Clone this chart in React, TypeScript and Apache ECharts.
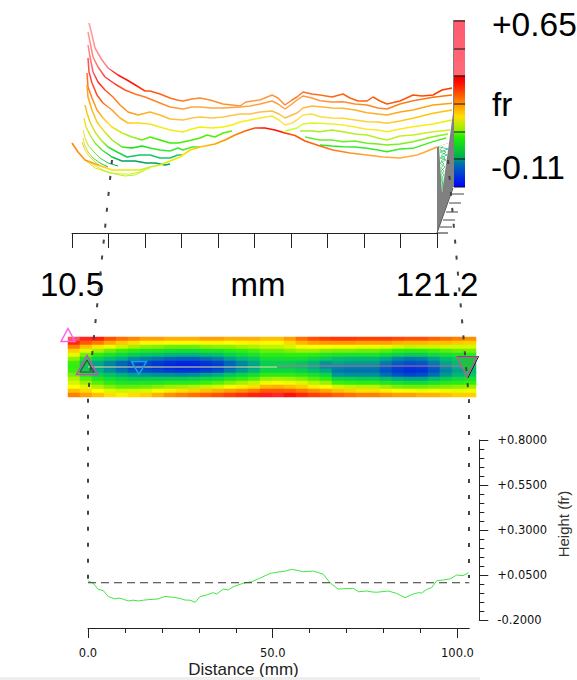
import React, { useEffect, useRef } from "react";
import * as echarts from "echarts";

const FONT = "Liberation Sans";

// ---- 3D waterfall traces: [projected x, projected y]
const ridge1 = [[89,23],[92,35],[95,48],[102,60],[108,68],[118,75],[127,80],[137,86],[145,91],[150,91],[160,94],[170,98],[177,100],[183,101],[192,99],[200,98],[210,100],[223,104],[232,105],[240,106],[246,102],[260,100],[272,95],[278,98],[285,105],[292,100],[297,97],[303,92],[312,94],[320,95],[332,97],[343,94],[350,98],[358,101],[367,101],[373,97],[380,101],[387,104],[400,101],[413,95],[422,96],[433,95],[442,90],[452,88]];
const ridge2 = [[88,32],[90,42],[93,57],[98,67],[105,77],[115,84],[125,90],[135,94],[145,97],[150,99],[160,103],[170,107],[183,109],[192,107],[200,107],[212,108],[223,108],[240,107],[250,106],[260,104],[272,101],[278,104],[285,109],[292,104],[297,100],[303,96],[312,98],[320,100.7],[332,102],[343,101.7],[355,104],[367,105],[378,108],[387,109],[400,104],[413,100.7],[433,97.3],[452,95]];
const ridge3 = [[88,45],[90,57],[93,72],[98,82],[105,90],[113,97],[120,105],[128,112],[138,115],[150,112],[160,115],[170,119],[183,120],[192,118],[200,117],[212,118],[223,117],[240,114],[250,114],[260,112],[272,111],[279,114],[285,118],[292,115],[297,113],[303,108],[312,106],[320,106.7],[332,108],[343,108.3],[355,110],[367,112.7],[378,114],[387,115],[400,112],[413,110],[433,105],[452,103.3]];
const ridge4 = [[88,58],[89,72],[92,83],[97,95],[103,103],[112,110],[120,118],[128,123],[138,123],[150,124],[160,127],[170,130],[183,132],[192,129],[200,127],[212,128],[223,127],[232,125],[240,122],[250,120],[260,118],[272,116],[279,120],[285,125],[292,123],[297,120],[303,115],[312,114],[320,116.7],[332,118],[343,118.3],[355,120],[367,121.7],[378,122],[387,123.3],[400,121],[413,118.3],[433,113.3],[452,110]];
const ridge5 = [[87,73],[88,87],[92,98],[97,110],[103,118],[112,127],[122,133],[132,137],[142,140],[150,137],[160,140],[170,143],[178,143],[183,142],[192,140],[200,138],[207,135],[215,137],[223,133],[232,131],[240,null],[280,null],[285,131],[297,128],[303,124],[312,123],[320,123.3],[332,124],[343,125],[355,127],[367,129.3],[378,130],[387,131.7],[400,129],[413,126.7],[433,124],[452,120]];
const ridge6 = [[87,85],[88,97],[92,110],[97,122],[103,130],[112,140],[122,147],[132,148],[142,146],[150,148],[160,150],[170,151],[178,148],[183,150],[192,147],[200,147],[205,null],[295,null],[300,131],[312,131],[320,131.7],[332,130],[343,131.7],[355,134],[367,135],[378,138],[387,140],[400,136],[413,135],[433,131.7],[450,130]];
const ridge7 = [[85,105],[87,113],[90,122],[95,132],[101,140],[108,147],[117,152],[127,157],[140,155],[150,155],[160,158],[170,158],[178,155],[183,155],[186,null],[302,null],[305,137],[320,140],[332,140],[343,141.7],[355,141],[367,143.3],[378,144],[387,145],[400,144],[413,141.7],[433,136.7],[448,134]];
const ridge8 = [[84,118],[86,127],[90,135],[95,143],[102,150],[112,157],[122,161],[135,161],[146,163],[155,163],[165,165],[170,164],[174,null],[315,null],[320,145],[332,146],[343,146.7],[355,147],[367,148.3],[378,150],[387,151.7],[400,149],[413,148.3],[433,141.7],[446,138]];
const ridge9 = [[83,130],[85,138],[88,145],[94,152],[100,158],[108,163],[118,166]];
const ridge10 = [[83,138],[85,146],[88,152],[93,158],[100,163],[108,167]];
const ridge11 = [[82,142],[85,150],[89,156],[94,161],[100,166]];
const frontLoop1 = [[85,160],[95,168],[110,173],[120,174],[130,174],[140,172],[150,168]];
const frontLoop2 = [[90,163],[105,171],[115,174],[125,176],[135,175],[145,170]];
const frontTrace = [[72,143],[78,152],[85,160],[98,165],[112,170],[128,170],[140,170],[150,167],[160,165],[170,161],[180,157],[190,150],[200,147],[215,144],[225,140],[235,135],[245,131],[255,128],[265,128],[275,130],[285,133],[295,135.5],[305,141],[320,146],[333,150],[350,153],[367,155],[383,157],[400,158],[417,155],[425,152],[437,147]];
const wallHatch = [[439,147],[448,149],[440,152],[447,155],[440,158],[446,160],[440,163],[445,167],[441,171],[444,175],[441,179],[443,184],[442,190]];
const wallHatch2 = [[443,146],[440,150],[446,152],[441,156],[445,158],[441,161],[444,164],[441,168],[444,171],[441,175],[443,179],[442,186]];

const ridgeList = [ridge1,ridge2,ridge3,ridge4,ridge5,ridge6,ridge7,ridge8,ridge9,ridge10,ridge11,frontLoop1,frontLoop2,frontTrace,wallHatch,wallHatch2];
const ridgeColors: [number,string][][] = [
  [[0,"#ff9aa0"],[.05,"#ff8088"],[.07,"#ff2020"],[.12,"#ff1000"],[.16,"#ff5010"],[.3,"#ff8a30"],[.5,"#ff9a40"],[.6,"#ff7020"],[.9,"#ff5000"],[1,"#ff3000"]],
  [[0,"#ff9a90"],[.06,"#ff3030"],[.12,"#ff7020"],[.3,"#ffa840"],[.6,"#ff9a40"],[1,"#ff7000"]],
  [[0,"#ff8a90"],[.03,"#ff2020"],[.07,"#ff7a20"],[.15,"#ffb020"],[.3,"#ffc850"],[.6,"#ffb840"],[1,"#ffa000"]],
  [[0,"#ff5050"],[.02,"#ff4020"],[.06,"#ff9020"],[.12,"#ffd020"],[.2,"#e8f020"],[.4,"#f8f000"],[.55,"#ffe050"],[1,"#ffc000"]],
  [[0,"#ff7020"],[.03,"#ffa020"],[.06,"#ffe020"],[.12,"#a0f020"],[.2,"#30f000"],[.4,"#60f000"],[.55,"#c8ff30"],[.75,"#ffe830"],[1,"#f0f000"]],
  [[0,"#ffa020"],[.04,"#f0e020"],[.08,"#80f020"],[.12,"#10e000"],[.2,"#30e830"],[.55,"#a0f020"],[1,"#d0f020"]],
  [[0,"#ffc020"],[.04,"#c0f020"],[.07,"#30e820"],[.12,"#10c860"],[.25,"#10c870"],[.55,"#50f030"],[1,"#90f010"]],
  [[0,"#ffe020"],[.03,"#80f020"],[.07,"#10d040"],[.12,"#00a060"],[.25,"#00a060"],[.55,"#20e820"],[1,"#40f020"]],
  [[0,"#f0e020"],[.4,"#50e030"],[1,"#00a060"]],
  [[0,"#f0e020"],[.5,"#50e030"],[1,"#10a050"]],
  [[0,"#ffc020"],[.5,"#e0f020"],[1,"#60e030"]],
  [[0,"#ffd020"],[.3,"#c8f020"],[1,"#c8f020"]],
  [[0,"#ffe020"],[.3,"#b8f020"],[1,"#c0f020"]],
  [[0,"#ff8a10"],[.06,"#ffa010"],[.1,"#ffe000"],[.17,"#d8f000"],[.2,"#c8f020"],[.26,"#d8f000"],[.3,"#ffe800"],[.33,"#ffd000"],[.4,"#ffa000"],[.45,"#ff8000"],[.5,"#ff5010"],[.52,"#ff1800"],[.57,"#ff1000"],[.6,"#ff5000"],[.7,"#ff7010"],[.8,"#ffa030"],[.95,"#ffb040"],[1,"#ffa030"]],
  [[0,"#30e030"],[.6,"#10c060"],[1,"#10a090"]],
  [[0,"#30e030"],[.6,"#10c060"],[1,"#10a090"]],
];
const ridgeWidths = [1.5,1.5,1.5,1.5,1.5,1.5,1.5,1.4,1,1,1,1,1,1.7,0.7,0.7];

// ---- Surface map: one list per column, top row first
const surfaceColumns = [
  [96,87,76,66,57,48,41,40,41,46,51,55,60,68,76],
  [92,81,68,56,46,35,27,26,28,35,43,49,56,65,72],
  [88,77,63,50,39,28,19,18,20,28,36,43,51,60,68],
  [82,71,58,45,34,24,15,14,16,24,32,39,47,56,64],
  [78,67,54,41,30,20,11,10,12,20,29,36,44,54,62],
  [75,64,50,38,27,16,7,6,8,18,27,35,44,55,64],
  [72,61,48,36,25,14,6,5,7,17,27,36,45,56,66],
  [72,61,47,35,24,13,4,3,6,16,27,36,47,59,70],
  [70,59,45,33,22,11,2,1,4,16,27,38,49,62,74],
  [70,59,45,32,21,10,1,0,3,15,27,38,50,64,76],
  [70,59,45,32,21,10,1,0,3,16,28,39,51,66,78],
  [72,61,47,34,23,12,3,2,5,18,30,41,53,68,80],
  [72,61,48,35,24,14,5,4,7,20,32,43,55,70,82],
  [70,60,48,38,28,18,11,10,13,25,37,47,59,72,84],
  [70,61,50,40,31,22,15,14,17,28,40,50,62,74,86],
  [70,62,51,42,34,25,19,18,21,32,43,53,64,77,88],
  [68,61,53,45,39,32,27,26,29,39,49,58,69,81,91],
  [68,61,53,45,39,32,27,26,29,39,50,59,70,81,92],
  [72,65,55,47,40,32,27,26,29,39,49,58,68,80,90],
  [78,69,59,49,40,32,25,24,27,37,47,56,66,77,87],
  [82,72,60,49,39,29,21,20,23,33,43,52,62,74,84],
  [84,73,60,47,36,26,17,16,19,29,40,49,60,71,82],
  [85,73,59,46,35,23,19,15,13,17,29,41,55,68,80],
  [85,73,59,46,34,22,18,14,12,16,28,40,53,66,78],
  [84,72,58,45,34,22,18,14,12,16,27,39,52,64,76],
  [84,72,58,45,34,22,18,14,12,16,27,39,52,64,76],
  [84,72,57,43,31,19,14,10,8,12,24,36,49,62,74],
  [83,70,55,40,28,15,10,6,4,8,20,33,46,60,72],
  [82,69,53,39,26,13,8,4,2,6,19,31,45,59,72],
  [82,69,54,39,27,14,9,5,3,7,19,31,45,58,70],
  [80,68,54,41,30,18,14,10,8,12,23,34,46,59,70],
  [78,68,55,43,33,23,19,16,14,17,27,37,47,58,68],
  [76,67,55,45,35,26,23,20,18,21,30,38,48,57,66],
  [74,66,55,46,38,29,26,24,22,25,33,40,49,58,66],
];
const surfacePalette = ["#0020e0","#0060c0","#00b080","#10d840","#30ee10","#a8f000","#ffff00","#ffb000","#ff6000","#ff1010","#ff8090"];

// ---- Cross-section profile: distance (mm), height (fr)
const profileDistance = [0,1.44,2.8,4.15,5.5,7.3,8.4,9.56,10.9,12.2,13.6,15,16.3,19,20.8,23.1,24.9,26.25,27.6,29,30.3,32.1,33.9,34.8,36.6,38,39.3,42,44.3,46.5,49.3,52,53.5,55.1,56.6,58.3,61,63.7,65.5,67.7,71.8,73.2,75.4,76.8,78.1,81.3,83.5,85.8,88,89.5,90.3,91.7,93,94.4,96,98,99.8,101.5,103];
const profileHeight = [0.018,0.004,-0.03,-0.037,-0.07,-0.083,-0.078,-0.085,-0.094,-0.09,-0.094,-0.09,-0.087,-0.083,-0.069,-0.074,-0.08,-0.089,-0.09,-0.102,-0.07,-0.061,-0.048,-0.056,-0.028,-0.033,-0.015,0.004,0.013,0.032,0.059,0.068,0.072,0.081,0.076,0.068,0.072,0.054,0.007,-0.028,-0.024,-0.043,-0.039,-0.044,-0.046,-0.039,-0.052,-0.076,-0.056,-0.048,-0.05,-0.03,-0.02,0.018,0.022,0.028,0.05,0.046,0.063];
const meanHeight = 0.007;
const distanceEnd = 103.2;

const distMinorTicks = [0,10,20,30,40,50,60,70,80,90,100];
const distMajorTicks = [0,50,100];
const heightLabels = [-0.2,0.05,0.3,0.55,0.8];
const heightTicks = [-0.2,-0.15,-0.1,-0.05,0,0.05,0.1,0.15,0.2,0.25,0.3,0.35,0.4,0.45,0.5,0.55,0.6,0.65,0.7,0.75,0.8];
const waterfallTicks = [10.5,21.57,32.64,43.71,54.78,65.85,76.92,87.99,99.06,110.13,121.2];
const waterfallLabels = [10.5,121.2];

const colorBarStops: [number,string][] = [[0,"#ff5a6e"],[.33,"#ff6a78"],[.335,"#e80000"],[.38,"#ff1000"],[.5,"#ff9000"],[.58,"#ffe000"],[.66,"#90f000"],[.7,"#20f000"],[.82,"#00b050"],[.86,"#0070b0"],[1,"#0000ff"]];

const lineSeries = (data: any, color: any, width: number, extra: any = {}) => ({
  type: "line", xAxisIndex: 0, yAxisIndex: 0, data, showSymbol: false, symbol: "none",
  silent: true, clip: false, lineStyle: { color, width }, ...extra,
});

const marker = (point: number[], up: boolean, size: number[], stroke: string, fill = "transparent", bw = 1.5) => ({
  type: "scatter", xAxisIndex: 0, yAxisIndex: 0, data: [point], symbol: "triangle",
  symbolSize: size, symbolRotate: up ? 0 : 180, clip: false, silent: true, z: 8,
  itemStyle: { color: fill, borderColor: stroke, borderWidth: bw, opacity: 1 },
});

export default function App() {
  const ref = useRef<HTMLDivElement>(null);
  useEffect(() => {
    const chart = echarts.init(ref.current!, undefined, { renderer: "svg" });
    const axisCol = "#222";
    const heatData: number[][] = [];
    surfaceColumns.forEach((col, c) => col.forEach((v, r) => heatData.push([c, r, v])));

    const graphicEls: any[] = [
      { type: "polygon", z: 0, shape: { points: [[453,113],[453,187],[437,233],[437,147],[439,146],[449,143]] }, style: { fill: "#808080" } },
      { type: "polygon", z: 0, shape: { points: [[439,146],[449,143],[442,193]] }, style: { fill: "#ffffff" } },
      { type: "line", shape: { x1: 437, y1: 233, x2: 448, y2: 233 }, style: { stroke: "#222", lineWidth: 1 } },
      { type: "line", shape: { x1: 453, y1: 188, x2: 437, y2: 233 }, style: { stroke: "#555", lineWidth: 1 } },
      { type: "line", shape: { x1: 452, y1: 194, x2: 464, y2: 194 }, style: { stroke: "#444", lineWidth: 1 } },
      { type: "line", shape: { x1: 449, y1: 203, x2: 461, y2: 203 }, style: { stroke: "#444", lineWidth: 1 } },
      { type: "line", shape: { x1: 446, y1: 212, x2: 458, y2: 212 }, style: { stroke: "#444", lineWidth: 1 } },
      { type: "line", shape: { x1: 443, y1: 220, x2: 455, y2: 220 }, style: { stroke: "#444", lineWidth: 1 } },
      { type: "line", shape: { x1: 440, y1: 227, x2: 452, y2: 227 }, style: { stroke: "#444", lineWidth: 1 } },
      { type: "rect", shape: { x: 453, y: 20, width: 1.5, height: 167 }, style: { fill: "#808080" } },
      { type: "rect", shape: { x: 454, y: 20, width: 11, height: 167 }, style: { fill: new echarts.graphic.LinearGradient(0, 0, 0, 1, colorBarStops.map(([offset, color]) => ({ offset, color }))) } },
      ...[21, 49, 76, 104, 132, 159, 187].map((y) => ({ type: "line", shape: { x1: 454, y1: y, x2: 465, y2: y }, style: { stroke: "#111", lineWidth: 1 } })),
      { type: "text", style: { text: "+0.65", x: 492, y: 24, fontSize: 33.5, fontFamily: FONT, fill: "#000", textAlign: "left", textVerticalAlign: "middle" } },
      { type: "text", style: { text: "fr", x: 492, y: 104, fontSize: 33.5, fontFamily: FONT, fill: "#000", textAlign: "left", textVerticalAlign: "middle" } },
      { type: "text", style: { text: "-0.11", x: 491, y: 167, fontSize: 33.5, fontFamily: FONT, fill: "#000", textAlign: "left", textVerticalAlign: "middle" } },
      { type: "text", style: { text: "Distance (mm)", x: 243.5, y: 669, fontSize: 17, fontFamily: FONT, fill: "#222", textAlign: "center", textVerticalAlign: "middle" } },
      { type: "text", x: 563, y: 524, rotation: Math.PI / 2, style: { text: "Height (fr)", x: 0, y: 0, fontSize: 15, fontFamily: FONT, fill: "#333", textAlign: "center", textVerticalAlign: "middle" } },
      { type: "polyline", z: 30, shape: { points: [[112,160],[88,395],[88,582]] }, style: { stroke: "#444", fill: "none", lineWidth: 2, lineDash: [4, 12] } },
      { type: "polyline", z: 30, shape: { points: [[448,160],[469,400],[469,578]] }, style: { stroke: "#444", fill: "none", lineWidth: 2, lineDash: [4, 12] } },
      { type: "rect", shape: { x: 0, y: 677, width: 480, height: 3 }, style: { fill: "#eeeeee" } },
    ];

    chart.setOption({
      animation: false,
      backgroundColor: "#ffffff",
      textStyle: { fontFamily: FONT },
      grid: [
        { left: 0, top: 0, width: 577, height: 680, containLabel: false },
        { left: 72, top: 180, width: 365, height: 53 },
        { left: 68, top: 337, width: 408, height: 60 },
        { left: 88, top: 440, width: 381.3, height: 180 },
      ],
      xAxis: [
        { gridIndex: 0, type: "value", min: 0, max: 577, show: false },
        {
          gridIndex: 1, type: "value", min: 10.5, max: 121.2, position: "bottom",
          name: "mm", nameLocation: "middle", nameGap: 35, nameMoveOverlap: false,
          nameTextStyle: { fontSize: 33, fontFamily: FONT, color: "#000", padding: [0, 0, 0, 7] },
          axisLine: { show: true, onZero: false, lineStyle: { color: axisCol, width: 1 } },
          axisTick: { show: true, length: 15, customValues: waterfallTicks, lineStyle: { color: axisCol, width: 1 } },
          axisLabel: { show: true, customValues: waterfallLabels, margin: 35, fontSize: 33, fontFamily: FONT, color: "#000", formatter: (v: number) => v.toFixed(1) },
          splitLine: { show: false },
        },
        { gridIndex: 2, type: "category", data: surfaceColumns.map((_, i) => String(i)), show: false },
        {
          gridIndex: 3, type: "value", min: 0, max: distanceEnd, position: "bottom", offset: 8,
          axisLine: { show: true, onZero: false, lineStyle: { color: axisCol, width: 1 } },
          axisTick: { show: true, length: 5, customValues: distMinorTicks, lineStyle: { color: axisCol } },
          axisLabel: { show: false }, splitLine: { show: false },
        },
        {
          gridIndex: 3, type: "value", min: 0, max: distanceEnd, position: "bottom", offset: 8,
          axisLine: { show: false, onZero: false },
          axisTick: { show: true, length: 10, customValues: distMajorTicks, lineStyle: { color: axisCol } },
          axisLabel: { show: true, customValues: distMajorTicks, margin: 19, fontSize: 11.5, fontFamily: "DejaVu Sans", color: "#111", formatter: (v: number) => v.toFixed(1) },
          splitLine: { show: false },
        },
      ],
      yAxis: [
        { gridIndex: 0, type: "value", min: 0, max: 680, inverse: true, show: false },
        { gridIndex: 1, type: "value", min: 0, max: 1, show: false },
        { gridIndex: 2, type: "category", inverse: true, data: surfaceColumns[0].map((_, i) => String(i)), show: false },
        {
          gridIndex: 3, type: "value", min: -0.2, max: 0.8, position: "right", offset: 10,
          axisLine: { show: true, onZero: false, lineStyle: { color: axisCol, width: 1 } },
          axisTick: { show: true, length: 5, customValues: heightTicks, lineStyle: { color: axisCol } },
          axisLabel: { show: true, customValues: heightLabels, margin: 18, fontSize: 11.5, fontFamily: "DejaVu Sans", color: "#111", formatter: (v: number) => (v >= 0 ? "+" : "") + v.toFixed(4) },
          splitLine: { show: false },
        },
        {
          gridIndex: 3, type: "value", min: -0.2, max: 0.8, position: "right", offset: 10,
          axisLine: { show: false, onZero: false },
          axisTick: { show: true, length: 9, customValues: heightLabels, lineStyle: { color: axisCol } },
          axisLabel: { show: false }, splitLine: { show: false },
        },
      ],
      visualMap: { show: false, type: "continuous", min: 0, max: 100, seriesIndex: 0, inRange: { color: surfacePalette } },
      series: [
        { type: "heatmap", xAxisIndex: 2, yAxisIndex: 2, data: heatData, silent: true, itemStyle: { borderWidth: 0 }, z: 1 },
        { type: "line", xAxisIndex: 1, yAxisIndex: 1, data: [], silent: true },
        ...ridgeList.map((pts, i) =>
          lineSeries(pts, { type: "linear", x: 0, y: 0, x2: 1, y2: 0, colorStops: ridgeColors[i].map(([offset, color]) => ({ offset, color })) }, ridgeWidths[i], { z: 3 + i / 20 })
        ),
        lineSeries([[88, 367], [277, 367]], "#e8e888", 1.2, { z: 6 }),
        lineSeries([[277, 366], [467, 366]], "#c86ca8", 1.2, { z: 6 }),
        marker([68, 335], true, [14, 13], "#ff60f0"),
        marker([87, 365], true, [21, 19], "#c050c0"),
        marker([87, 366], true, [14, 12], "#404040", "transparent", 1),
        marker([139, 368], false, [15, 13], "#20a0e0"),
        marker([468, 367], false, [21, 21], "#111111", "transparent", 1),
        marker([467, 367], false, [20, 20], "#b060a0", "#20c040"),
        {
          type: "line", xAxisIndex: 3, yAxisIndex: 3, showSymbol: false, symbol: "none", silent: true,
          data: profileDistance.map((d, i) => [d, profileHeight[i]]),
          lineStyle: { color: "#40e840", width: 1 },
        },
        {
          type: "line", xAxisIndex: 3, yAxisIndex: 3, showSymbol: false, symbol: "none", silent: true,
          data: [[0, meanHeight], [distanceEnd, meanHeight]],
          lineStyle: { color: "#333", width: 1, type: [8, 5] },
        },
        { type: "line", xAxisIndex: 4, yAxisIndex: 4, data: [], silent: true },
      ],
      graphic: { elements: graphicEls },
    });
    return () => chart.dispose();
  }, []);
  return <div ref={ref} style={{ position: "fixed", left: 0, top: 0, width: 577, height: 680, background: "#fff" }} />;
}
